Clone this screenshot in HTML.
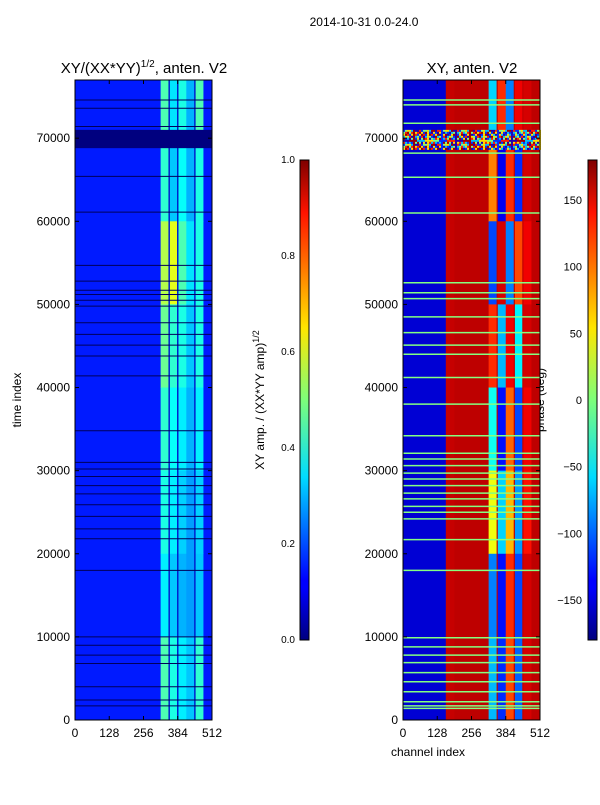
<!DOCTYPE html>
<html><head><meta charset="utf-8"><style>
body{margin:0;background:#fff;}
svg text{font-family:"Liberation Sans","DejaVu Sans",sans-serif;fill:#000;}
</style></head><body>
<svg id="c" width="600" height="800" xmlns="http://www.w3.org/2000/svg">
<defs>
<linearGradient id="jet" x1="0" y1="1" x2="0" y2="0">
<stop offset="0" stop-color="#00007f"/><stop offset="0.11" stop-color="#0000ff"/><stop offset="0.125" stop-color="#0000ff"/>
<stop offset="0.34" stop-color="#00dbff"/><stop offset="0.5" stop-color="#7dff7a"/><stop offset="0.65" stop-color="#ffe600"/>
<stop offset="0.89" stop-color="#ff1300"/><stop offset="1" stop-color="#7f0000"/>
</linearGradient>
</defs>
<text x="364" y="26" font-size="12" text-anchor="middle">2014-10-31 0.0-24.0</text>
<text x="144" y="73" font-size="15" text-anchor="middle">XY/(XX*YY)<tspan font-size="10" dy="-6">1/2</tspan><tspan dy="6">, anten. V2</tspan></text>
<text x="472" y="73" font-size="15" text-anchor="middle">XY, anten. V2</text>
<text transform="translate(21,400) rotate(-90)" font-size="12" text-anchor="middle">time index</text>
<text x="428" y="756" font-size="12" text-anchor="middle">channel index</text>
<text transform="translate(264,400) rotate(-90)" font-size="12" text-anchor="middle">XY amp. / (XX*YY amp)<tspan font-size="9" dy="-5">1/2</tspan></text>
<text transform="translate(544,400) rotate(-90)" font-size="12" text-anchor="middle">phase (deg)</text>
<g id="left"></g>
<g id="right"></g>
<g id="axes"></g>
<rect x="300" y="160" width="9" height="480" fill="url(#jet)" stroke="#000"/>
<rect x="588" y="160" width="9" height="480" fill="url(#jet)" stroke="#000"/>
</svg>
<script>
// data
const timeMax = 77000;
const chanMax = 512;
const yTicks = [0,10000,20000,30000,40000,50000,60000,70000];
const xTicks = [0,128,256,384,512];
const ampTicks = [0.0,0.2,0.4,0.6,0.8,1.0];
const phaseTicks = [-150,-100,-50,0,50,100,150];
const timeBins = [77000,70000,60000,50000,40000,30000,20000,10000,0];
const ampBase = 0.15;
const ampMixed = [
 [0.45,0.35,0.4,0.3,0.45,0.15],
 [0.42,0.32,0.38,0.3,0.4,0.15],
 [0.55,0.6,0.45,0.35,0.4,0.15],
 [0.48,0.42,0.4,0.32,0.4,0.15],
 [0.42,0.38,0.36,0.3,0.36,0.15],
 [0.4,0.36,0.33,0.28,0.33,0.15],
 [0.36,0.32,0.3,0.28,0.32,0.15],
 [0.45,0.4,0.36,0.32,0.42,0.15]];
const phaseLeft = [-150,-150,-150,-150,-150,155,158,158,158,158];
const phaseMixed = [
 [-60,120,-90,140,150,158],
 [90,-140,120,-120,150,158],
 [-110,150,-90,110,140,158],
 [120,-70,140,-50,150,158],
 [-40,-130,100,-110,140,158],
 [40,-60,70,-80,130,158],
 [-90,-130,120,-110,150,158],
 [-70,-120,110,-100,150,158]];
const ampDarkLines = [74600,73600,71400,65400,61100,54700,52800,51700,51200,50500,49800,47800,46400,45100,43800,41400,34800,31000,30200,29300,28200,27200,25900,24500,23000,21800,18000,10000,9000,7800,6800,4000,2400,1700];
const phaseLines = [74600,74000,71800,68200,65300,61000,52600,51400,50700,48500,46600,45100,44000,41200,38000,34200,32100,31400,30600,29700,29000,28200,27300,26600,25700,25000,24200,21700,18000,9900,8800,7800,6900,5700,4600,3400,2200,1700,1400];
const noiseBand = [68800,71000];

const L = {x0:75,x1:212}, R = {x0:403,x1:540}, Y0 = 720, Y1 = 80;
const ty = t => Y0 - (t/timeMax)*(Y0-Y1);
const cx = (p,c) => p.x0 + (c/chanMax)*(p.x1-p.x0);
function jet(v){v=Math.max(0,Math.min(1,v));
 const r=Math.max(0,Math.min(1,1.5-Math.abs(4*v-3))),g=Math.max(0,Math.min(1,1.5-Math.abs(4*v-2))),b=Math.max(0,Math.min(1,1.5-Math.abs(4*v-1)));
 return `rgb(${Math.round(r*255)},${Math.round(g*255)},${Math.round(b*255)})`;}
const pv = p => (p+180)/360;
const NS='http://www.w3.org/2000/svg';
function rect(g,x,y,w,h,f,name){const r=document.createElementNS(NS,'rect');
 r.setAttribute('x',x);r.setAttribute('y',y);r.setAttribute('width',w);r.setAttribute('height',h);r.setAttribute('fill',f);
 
 
 g.appendChild(r);return r;}
function text(x,y,s,anchor,size,name){const t=document.createElementNS(NS,'text');
 t.setAttribute('x',x);t.setAttribute('y',y);t.setAttribute('text-anchor',anchor);t.setAttribute('font-size',size);t.textContent=s;
 
 
 document.getElementById('axes').appendChild(t);}
function line(g,x1,y1,x2,y2,c,w,name){const l=document.createElementNS(NS,'line');
 l.setAttribute('x1',x1);l.setAttribute('y1',y1);l.setAttribute('x2',x2);l.setAttribute('y2',y2);l.setAttribute('stroke',c);l.setAttribute('stroke-width',w);
 
 
 g.appendChild(l);}
const gl=document.getElementById('left'), gr=document.getElementById('right'), ga=document.getElementById('axes');
rect(gl,L.x0,Y1,L.x1-L.x0,Y0-Y1,jet(ampBase),'amp-background');
for(let i=0;i<ampMixed.length;i++){const yA=ty(timeBins[i]),yB=ty(timeBins[i+1]);
 ampMixed[i].forEach((v,j)=>{const c0=320+j*32;rect(gl,cx(L,c0),yA,cx(L,c0+32)-cx(L,c0)+0.5,yB-yA+0.5,jet(v),'amp-cell');});}
[352,384,448].forEach(c=>line(gl,cx(L,c),Y1,cx(L,c),Y0,'#0020d0',1.5,'amp-gap'));
rect(gl,L.x0,ty(noiseBand[1]),L.x1-L.x0,ty(noiseBand[0])-ty(noiseBand[1]),'#00007f','amp-dark-band');
ampDarkLines.forEach(t=>line(gl,L.x0,ty(t),L.x1,ty(t),'#00005a',1,'amp-dark-line'));
for(let j=0;j<phaseLeft.length;j++) rect(gr,cx(R,j*32),Y1,cx(R,32)-cx(R,0)+0.5,Y0-Y1,jet(pv(phaseLeft[j])),'phase-column');
for(let i=0;i<phaseMixed.length;i++){const yA=ty(timeBins[i]),yB=ty(timeBins[i+1]);
 phaseMixed[i].forEach((v,j)=>{const c0=320+j*32;rect(gr,cx(R,c0),yA,cx(R,c0+32)-cx(R,c0)+0.5,yB-yA+0.5,jet(pv(v)),'phase-cell');});}
[352,416,448].forEach(c=>line(gr,cx(R,c),Y1,cx(R,c),Y0,'#c00000',1.2,'phase-gap'));
{const yA=ty(noiseBand[1]),yB=ty(noiseBand[0]);const cols=['#ff2000','#0030ff','#80ff80','#ffe000','#00c0ff','#a00000','#2000b0'];let k=0;
 for(let y=yA;y<yB;y+=2)for(let x=R.x0;x<R.x1;x+=2){k=(k*7+3+Math.floor(x*y))%7;rect(gr,x,y,2,2,cols[k],'phase-noise-pixel');}}
phaseLines.forEach(t=>line(gr,R.x0,ty(t),R.x1,ty(t),'#85ff80',1.5,'phase-flag-line'));
[L,R].forEach((p,pi)=>{
 const f=rect(ga,p.x0,Y1,p.x1-p.x0,Y0-Y1,'none',pi?'phase-frame':'amp-frame');f.setAttribute('stroke','#000');
 yTicks.forEach(t=>{line(ga,p.x0,ty(t),p.x0+4,ty(t),'#000',1,'y-tick');line(ga,p.x1-4,ty(t),p.x1,ty(t),'#000',1,'y-tick');text(p.x0-5,ty(t)+4,t,'end',12,'y-tick-label');});
 xTicks.forEach(c=>{line(ga,cx(p,c),Y0,cx(p,c),Y0-4,'#000',1,'x-tick');line(ga,cx(p,c),Y1,cx(p,c),Y1+4,'#000',1,'x-tick');text(cx(p,c),Y0+17,c,'middle',12,'x-tick-label');});
});
ampTicks.forEach(v=>{const y=640-v*480;line(ga,300,y,304,y,'#000',1,'cbar-amp-tick');line(ga,305,y,309,y,'#000',1,'cbar-amp-tick');text(295,y+3,v.toFixed(1),'end',10,'cbar-amp-tick-label');});
phaseTicks.forEach(v=>{const y=640-pv(v)*480;line(ga,588,y,592,y,'#000',1,'cbar-phase-tick');line(ga,593,y,597,y,'#000',1,'cbar-phase-tick');text(582,y+4,v<0?'\u2212'+(-v):v,'end',11,'cbar-phase-tick-label');});
</script>
</body></html>
